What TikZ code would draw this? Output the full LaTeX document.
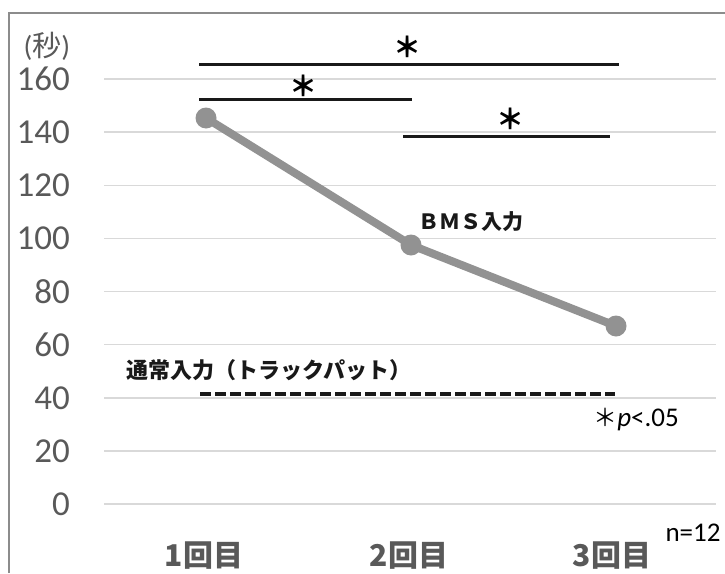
\documentclass[tikz,border=0pt]{standalone}
\usepackage{fontspec}
\setmainfont{Carlito}
\newfontfamily\cjk{Noto Sans CJK JP}
\usetikzlibrary{calc}
\definecolor{axisgray}{HTML}{595959}
\definecolor{gridgray}{HTML}{D9D9D9}
\definecolor{framegray}{HTML}{8C8C8C}
\definecolor{datagray}{HTML}{929292}
\tikzset{
  gridline/.style={draw=gridgray, line width=1.5pt},
  ylab/.style={anchor=east, inner sep=0pt, text=axisgray, font=\fontsize{35}{35}\selectfont},
  xlab/.style={inner sep=0pt, text=axisgray, font=\cjk\bfseries\fontsize{30}{30}\selectfont},
  sigbar/.style={draw=black!90, line width=3pt},
  star/.style={inner sep=0pt, font=\cjk\bfseries\fontsize{28}{28}\selectfont},
  dataline/.style={draw=datagray, line width=8pt},
  dot/.style={circle, fill=datagray, minimum size=21pt, inner sep=0pt},
  cjklab/.style={inner sep=0pt, text=black!90, font=\cjk\bfseries\fontsize{21}{21}\selectfont},
}
\begin{document}
\begin{tikzpicture}[x=1pt, y=-1pt]
\useasboundingbox (0,0) rectangle (725,573);
% frame
\draw[framegray, line width=1.5pt] (9,573) -- (9,13) -- (725,13);
% grid lines and y labels
\foreach \v in {0,20,...,160} {
  \pgfmathsetmacro{\yy}{504-2.656*\v}
  \draw[gridline] (104,\yy) -- (716,\yy);
  \node[ylab] (y\v) at (70,\yy) {\v};
}
\node[inner sep=0pt, text=axisgray, font=\fontsize{29}{29}\selectfont] (unit) at (47,46) {({\cjk 秒})};
% normal input dashed line
\coordinate (d1) at (200,394);
\coordinate (d2) at (615,394);
\draw[black!90, line width=4pt, dash pattern=on 11pt off 4pt] (d1) -- (d2);
\node[cjklab, font=\cjk\bfseries\fontsize{22}{22}\selectfont] (normal) at (269,370) {通常入力（トラックパット）};
% data
\coordinate (c1) at (206,118);
\coordinate (c2) at (411,245);
\coordinate (c3) at (616,326);
\draw[dataline] (c1) -- (c2) -- (c3);
\node[dot] (p1) at (c1) {};
\node[dot] (p2) at (c2) {};
\node[dot] (p3) at (c3) {};
\node[cjklab] (bms) at (471,222) {ＢＭＳ入力};
% significance bars
\coordinate (a1) at (199,64);  \coordinate (a2) at (619,64);
\coordinate (b1) at (199,99);  \coordinate (b2) at (412,99);
\coordinate (e1) at (403,136); \coordinate (e2) at (610,136);
\draw[sigbar] (a1) -- (a2);
\draw[sigbar] (b1) -- (b2);
\draw[sigbar] (e1) -- (e2);
\node[star] (s1) at (407,47) {＊};
\node[star] (s2) at (303,86) {＊};
\node[star] (s3) at (510,119) {＊};
% category labels
\node[xlab] (x1) at (204,556) {1回目};
\node[xlab] (x2) at (409,556) {2回目};
\node[xlab] (x3) at (612,556) {3回目};
\node[inner sep=0pt, font=\fontsize{27}{27}\selectfont] (n) at (693,533) {n=12};
\node[inner sep=0pt, font=\fontsize{27}{27}\selectfont] (pval) at (636,420) {{\cjk\fontsize{24}{24}\selectfont ＊}\textit{p}<.05};
\end{tikzpicture}
\end{document}
